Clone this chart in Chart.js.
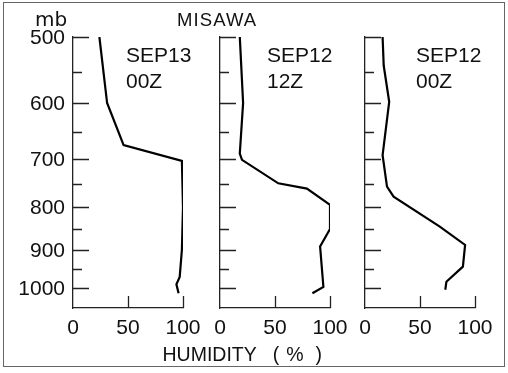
<!DOCTYPE html>
<html>
<head>
<meta charset="utf-8">
<script src="https://cdn.jsdelivr.net/npm/chart.js@4/dist/chart.umd.min.js"></script>
<style>
  html, body { margin:0; padding:0; background:#fff; }
  #wrap { position:relative; width:508px; height:373px; overflow:hidden; background:#fff; }
  canvas { position:absolute; left:0; top:0; }
  .t { position:absolute; font-family:'Liberation Sans', Arial, sans-serif; color:#111; line-height:1; white-space:nowrap; }
  #frame { position:absolute; left:3px; top:2px; width:502px; height:365px; border:1px solid #666; box-sizing:border-box; }
</style>
</head>
<body>
<div id="wrap">
  <div id="frame"></div>
  <canvas id="c1" width="508" height="373"></canvas>
  <canvas id="c2" width="508" height="373"></canvas>
  <canvas id="c3" width="508" height="373"></canvas>
  <div class="t" style="left:35px;top:9px;font-size:20px;font-family:'DejaVu Sans';">mb</div>
  <div class="t" style="left:177px;top:11px;font-size:18.5px;letter-spacing:1.1px;">MISAWA</div>
  <div class="t" style="left:126px;top:43.5px;font-size:21px;">SEP13</div>
  <div class="t" style="left:126px;top:69.5px;font-size:21px;">00Z</div>
  <div class="t" style="left:267px;top:43.5px;font-size:21px;">SEP12</div>
  <div class="t" style="left:267px;top:69.5px;font-size:21px;">12Z</div>
  <div class="t" style="left:416px;top:44px;font-size:21px;">SEP12</div>
  <div class="t" style="left:416px;top:69.5px;font-size:21px;">00Z</div>
  <div class="t" style="left:162.5px;top:344.5px;font-size:19.5px;">HUMIDITY<span style="margin-left:16px;letter-spacing:7px">(</span><span style="letter-spacing:12px">%</span>)</div>
</div>
<script>
// ---- data (humidity %, pressure mb) ----
const pressureTicks = [500, 600, 700, 800, 900, 1000];
const pressureMinorTicks = [550, 650, 750, 850, 950];
const humidityTicks = [0, 50, 100];

const sep13_00z_humidity = [24, 31, 46, 99, 100, 99, 97, 94, 96];
const sep13_00z_pressure = [500, 600, 674, 704, 800, 900, 970, 990, 1015];

const sep12_12z_humidity = [18, 21, 18, 20, 53, 79, 100, 100, 91, 94, 84];
const sep12_12z_pressure = [500, 600, 690, 702, 749, 760, 795, 850, 892, 997, 1015];

const sep12_00z_humidity = [16, 17, 22, 16, 20, 26, 68, 91, 89, 74, 73];
const sep12_00z_pressure = [500, 541, 598, 693, 756, 777, 844, 888, 943, 983, 1005];

const panels = [
  { id: 'c1', hum: sep13_00z_humidity, pres: sep13_00z_pressure, left: 73, right: 183, showY: true },
  { id: 'c2', hum: sep12_12z_humidity, pres: sep12_12z_pressure, left: 220, right: 330, showY: false },
  { id: 'c3', hum: sep12_00z_humidity, pres: sep12_00z_pressure, left: 365, right: 475, showY: false }
];

const W = 508, H = 373, AXIS_W = 73, TOP = 37, BOTTOM = 308;

const inwardTicks = {
  id: 'inwardTicks',
  afterDraw(chart) {
    const ctx = chart.ctx, a = chart.chartArea;
    const ys = chart.scales.y, xs = chart.scales.x;
    ctx.save();
    ctx.strokeStyle = '#222';
    ctx.lineWidth = 1.3;
    ctx.beginPath();
    pressureTicks.forEach(v => {
      const y = Math.round(ys.getPixelForValue(v)) + 0.5;
      ctx.moveTo(a.left, y); ctx.lineTo(a.left + 16, y);
    });
    pressureMinorTicks.forEach(v => {
      const y = Math.round(ys.getPixelForValue(v)) + 0.5;
      ctx.moveTo(a.left, y); ctx.lineTo(a.left + 9, y);
    });
    humidityTicks.slice(1).forEach(v => {
      const x = Math.round(xs.getPixelForValue(v)) + 0.5;
      ctx.moveTo(x, a.bottom); ctx.lineTo(x, a.bottom - 12);
    });
    ctx.stroke();
    ctx.restore();
  }
};

panels.forEach(p => {
  const pts = p.hum.map((h, i) => ({ x: h, y: p.pres[i] }));
  new Chart(document.getElementById(p.id), {
    type: 'scatter',
    data: { datasets: [{ data: pts, showLine: true, borderColor: '#000', borderWidth: 2.2, pointRadius: 0, tension: 0, fill: false }] },
    options: {
      responsive: false, animation: false, devicePixelRatio: 1,
      layout: { padding: { left: p.left - AXIS_W, right: W - p.right, top: TOP, bottom: 0 } },
      plugins: { legend: { display: false }, tooltip: { enabled: false } },
      scales: {
        x: {
          type: 'linear', min: 0, max: 100,
          afterBuildTicks: s => { s.ticks = humidityTicks.map(v => ({ value: v })); },
          afterFit: s => { s.height = H - BOTTOM; s.paddingLeft = 0; s.paddingRight = 0; },
          grid: { display: false, drawTicks: false, tickLength: 0 },
          border: { display: true, color: '#222', width: 1.3 },
          ticks: { padding: 8, autoSkip: false, maxRotation: 0, color: '#111',
                   font: { family: 'Liberation Sans', size: 21 }, callback: v => String(v) }
        },
        y: {
          type: 'logarithmic', reverse: true, min: 500, max: 1057,
          afterBuildTicks: s => { s.ticks = pressureTicks.map(v => ({ value: v })); },
          afterFit: s => { s.width = AXIS_W; s.paddingTop = 0; s.paddingBottom = 0; },
          grid: { display: false, drawTicks: false, tickLength: 0 },
          border: { display: true, color: '#222', width: 1.3 },
          ticks: { display: p.showY, padding: 8, labelOffset: 1.5, autoSkip: false, color: '#111',
                   font: { family: 'Liberation Sans', size: 21 }, callback: v => String(v) }
        }
      }
    },
    plugins: [inwardTicks]
  });
});
</script>
</body>
</html>
